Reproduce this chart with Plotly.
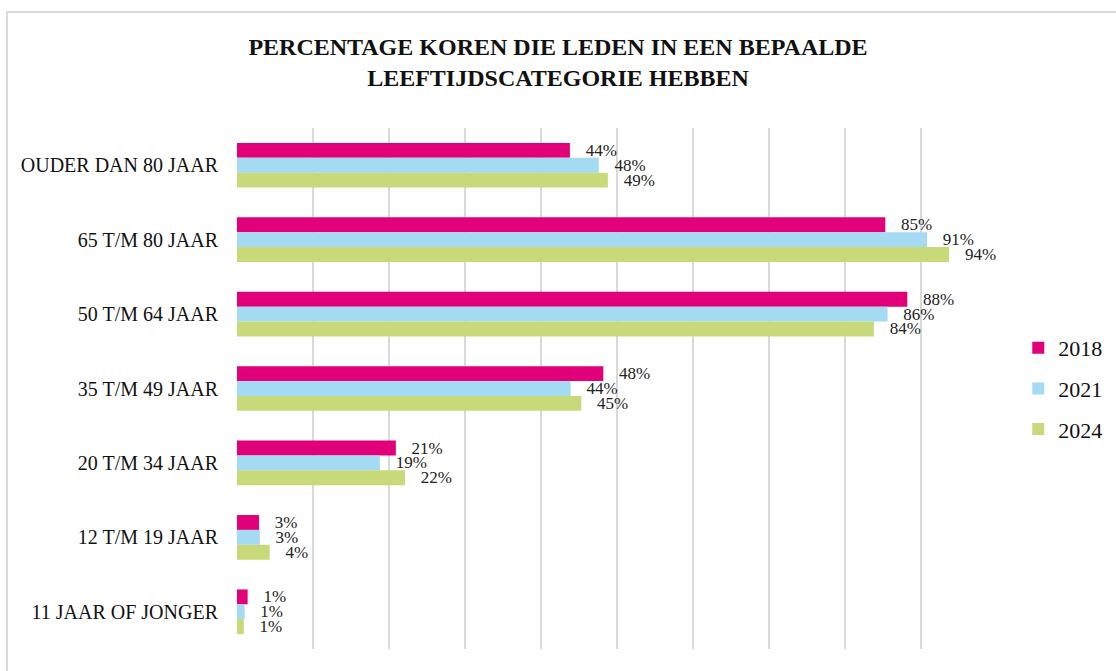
import plotly.graph_objects as go

categories = ["OUDER DAN 80 JAAR", "65 T/M 80 JAAR", "50 T/M 64 JAAR", "35 T/M 49 JAAR",
              "20 T/M 34 JAAR", "12 T/M 19 JAAR", "11 JAAR OF JONGER"]
years = ["2018", "2021", "2024"]
values_2018 = [43.8, 85.3, 88.2, 48.2, 20.9, 2.9, 1.4]
values_2021 = [47.6, 90.8, 85.6, 43.9, 18.8, 3.0, 1.0]
values_2024 = [48.8, 93.7, 83.8, 45.3, 22.1, 4.3, 0.9]
colors = ["#E2007A", "#A5DBF2", "#C8D97A"]

series = [values_2018, values_2021, values_2024]

fig = go.Figure()
for i, (yr, vals, col) in enumerate(zip(years, series, colors)):
    fig.add_trace(go.Bar(
        y=categories, x=vals, name=yr, orientation="h",
        marker=dict(color=col, line=dict(width=0)),
        text=["\u00a0\u00a0\u00a0" + f"{round(v):d}%" for v in vals],
        textposition="outside", constraintext="none", cliponaxis=False,
        textfont=dict(family="Liberation Serif", size=17, color="#222222"),
        legendgroup=yr,
    ))

fig.update_layout(
    width=1116, height=671,
    paper_bgcolor="white", plot_bgcolor="white",
    margin=dict(l=237, r=119, t=128, b=22, autoexpand=False),
    barmode="group", bargap=0.4, bargroupgap=0,
    title=dict(text="<b>PERCENTAGE KOREN DIE LEDEN IN EEN BEPAALDE<br>LEEFTIJDSCATEGORIE HEBBEN</b>",
               x=0.5, xanchor="center", y=0.918, yanchor="top",
               font=dict(family="Liberation Serif", size=24, color="#111111")),
    xaxis=dict(range=[0, 100], dtick=10, showgrid=True, gridcolor="#D9D9D9", gridwidth=2,
               showticklabels=False, zeroline=False, showline=False, ticks="", automargin=False),
    yaxis=dict(autorange="reversed", showgrid=False, ticks="", ticklen=0, automargin=False,
               ticklabelstandoff=18,
               tickfont=dict(family="Liberation Serif", size=20, color="#111111"),
               showline=False, zeroline=False),
    legend=dict(x=1.028, xanchor="left", y=0.5, yanchor="middle", tracegroupgap=9,
                font=dict(family="Liberation Serif", size=22, color="#111111"),
                itemwidth=30),
    showlegend=True,
    shapes=[dict(type="rect", xref="paper", yref="paper",
                 x0=-230 / 760, x1=1.3, y0=-0.2, y1=1 + 116 / 521,
                 line=dict(color="#D9D9D9", width=2), fillcolor="rgba(0,0,0,0)", layer="below")],
)

fig.write_html("out.html", config={"displayModeBar": False},
               post_script="document.body.style.margin='0';")
